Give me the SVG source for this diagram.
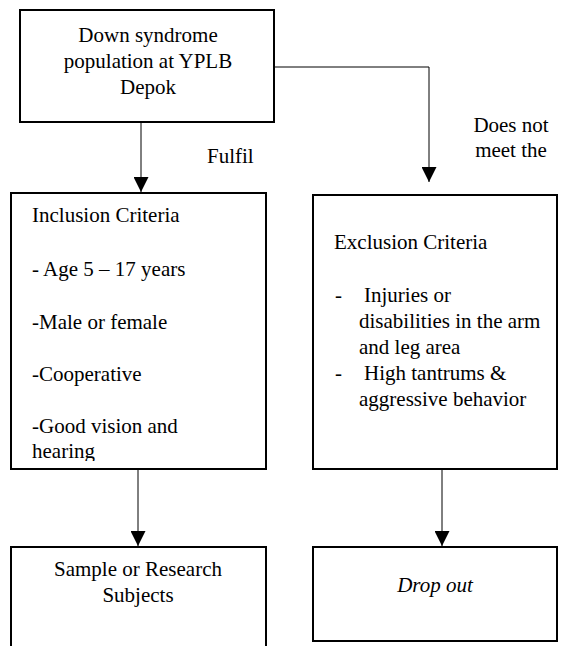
<svg xmlns="http://www.w3.org/2000/svg" width="566" height="646" viewBox="0 0 566 646">
<style>
.box{fill:#fff;stroke:#000;stroke-width:2}
.t{font-family:"Liberation Serif","Times New Roman",serif;font-size:21px;fill:#000}
.c{text-anchor:middle}
.ln{stroke:#000;stroke-width:1;fill:none}
</style>
<defs>
<marker id="ah" markerWidth="15" markerHeight="15" refX="15" refY="7.5" orient="auto" markerUnits="userSpaceOnUse" viewBox="0 0 15 15">
<path d="M0,0 L15,7.5 L0,15 Z" fill="#000"/>
</marker>
<clipPath id="incClip"><rect x="11" y="193" width="255" height="268"/></clipPath>
</defs>
<rect width="566" height="646" fill="#fff"/>
<g id="connectors">
<line class="ln" x1="141" y1="122" x2="141" y2="192" marker-end="url(#ah)"/>
<polyline class="ln" points="274,67 429,67 429,182" marker-end="url(#ah)"/>
<line class="ln" x1="138" y1="469" x2="138" y2="546" marker-end="url(#ah)"/>
<line class="ln" x1="442" y1="469" x2="442" y2="546" marker-end="url(#ah)"/>
<text class="t" x="207" y="163">Fulfil</text>
<text class="t c" x="511" y="132">Does not</text>
<text class="t c" x="511" y="157">meet the</text>
</g>
<g id="population">
<rect class="box" x="20" y="10" width="254" height="112"/>
<text class="t c" x="148" y="42">Down syndrome</text>
<text class="t c" x="148" y="68">population at YPLB</text>
<text class="t c" x="148" y="94">Depok</text>
</g>
<g id="inclusion">
<rect class="box" x="11" y="193" width="255" height="276"/>
<g clip-path="url(#incClip)">
<text class="t" x="32" y="222">Inclusion Criteria</text>
<text class="t" x="32" y="276">- Age 5 – 17 years</text>
<text class="t" x="32" y="329">-Male or female</text>
<text class="t" x="32" y="381">-Cooperative</text>
<text class="t" x="32" y="433">-Good vision and</text>
<text class="t" x="32" y="458">hearing</text>
</g>
</g>
<g id="exclusion">
<rect class="box" x="313" y="195" width="244" height="274"/>
<text class="t" x="334" y="249">Exclusion Criteria</text>
<text class="t" x="335" y="302">-</text>
<text class="t" x="364" y="302">Injuries or</text>
<text class="t" x="359" y="328">disabilities in the arm</text>
<text class="t" x="359" y="354">and leg area</text>
<text class="t" x="335" y="380">-</text>
<text class="t" x="364" y="380">High tantrums &amp;</text>
<text class="t" x="359" y="406">aggressive behavior</text>
</g>
<g id="sample">
<rect class="box" x="11" y="547" width="255" height="110"/>
<text class="t c" x="138" y="576">Sample or Research</text>
<text class="t c" x="138" y="602">Subjects</text>
</g>
<g id="dropout">
<rect class="box" x="313" y="547" width="244" height="94"/>
<text class="t c" x="435" y="592" font-style="italic">Drop out</text>
</g>
</svg>
